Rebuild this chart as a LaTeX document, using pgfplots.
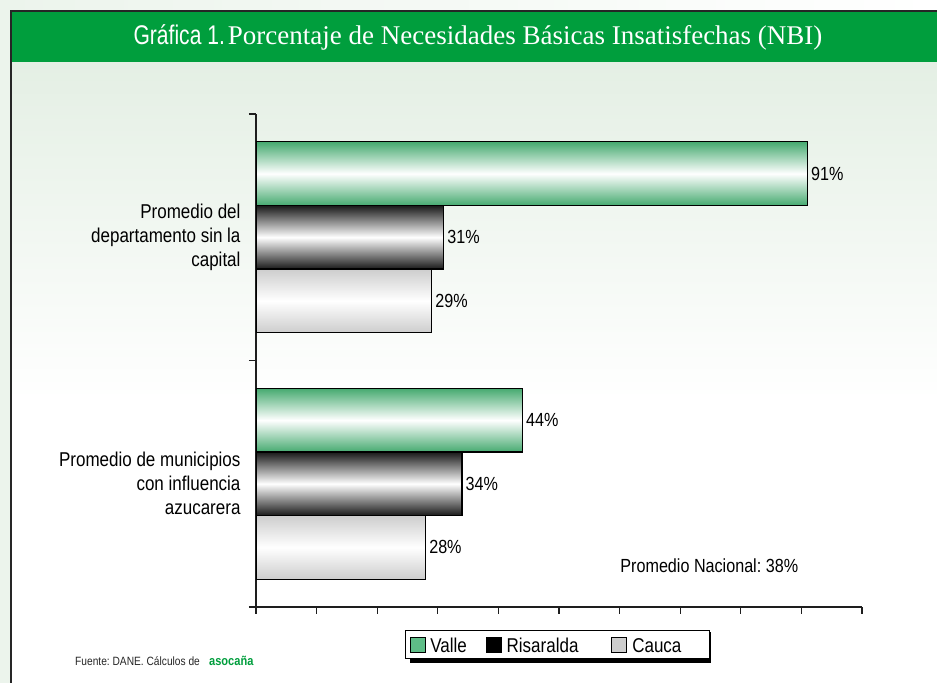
\documentclass[border=0pt]{standalone}
\usepackage{pgfplots}
\pgfplotsset{compat=1.18}
\usepackage{fontspec}
\setmainfont{Liberation Sans}[FakeStretch=0.85]
\newfontfamily\titleserif{Liberation Serif}
\newfontfamily\titlesans{Liberation Sans}[FakeStretch=0.78]
\definecolor{titlegreen}{RGB}{0,158,61}
\definecolor{bggreen}{RGB}{228,239,228}
\definecolor{outgreen}{RGB}{236,244,236}
\definecolor{vgreen}{RGB}{70,170,112}
\definecolor{vlegend}{RGB}{94,189,135}
\definecolor{rdark}{RGB}{25,25,25}
\definecolor{cgray}{RGB}{205,205,205}
\definecolor{axisblack}{RGB}{30,30,30}
\pgfplotsset{
  valle/.style={xbar, bar shift=0, draw=black, line width=1.2bp, top color=vgreen, bottom color=vgreen, middle color=white},
  risa/.style={xbar, bar shift=0, draw=black, line width=1.2bp, top color=rdark, bottom color=rdark, middle color=white},
  cauca/.style={xbar, bar shift=0, draw=black, line width=1.2bp, top color=cgray, bottom color=cgray, middle color=white},
}
\begin{document}
\frenchspacing
\begin{tikzpicture}
\path[use as bounding box] (0,0) rectangle (937bp,683bp);
% background
\fill[left color=outgreen, right color=white] (0,0) rectangle (937bp,683bp);
\fill[white] (11bp,0) rectangle (937bp,283bp);
\fill[top color=bggreen, bottom color=white] (11bp,283bp) rectangle (937bp,621bp);
\fill[titlegreen] (11bp,621bp) rectangle (937bp,672bp);
\draw[line width=1.8bp, draw=black!85] (11bp,0) -- (11bp,672bp) -- (937bp,672bp);
\node[text=white, anchor=base] at (478bp,638bp)
  {\fontsize{27bp}{31bp}\selectfont\titlesans Gráfica 1.\hspace{3bp}\titleserif Porcentaje de Necesidades Básicas Insatisfechas (NBI)};
% legend shadow
\fill[black] (410bp,20bp) rectangle (711bp,51bp);

\begin{axis}[
  at={(256bp,76bp)}, anchor=south west,
  scale only axis, width=606bp, height=493bp,
  xmin=0, xmax=100, ymin=0, ymax=2,
  axis lines=left,
  axis line style={-, line width=1.5bp, draw=axisblack},
  tick style={line width=1.3bp, draw=axisblack},
  tick align=outside,
  xtick={0,10,...,100}, xticklabels={},
  major tick length=7bp,
  ytick={0,1,2}, yticklabels={},
  extra y ticks={0.5,1.5},
  extra y tick labels={{Promedio de municipios\\con influencia\\azucarera},{Promedio del\\departamento sin la\\capital}},
  extra y tick style={major tick length=0pt, yticklabel style={align=right, font=\fontsize{20bp}{24bp}\selectfont, xshift=-12bp}},
  bar width=0.258,
  point meta=x,
  nodes near coords={\pgfmathprintnumber{\pgfplotspointmeta}\%},
  nodes near coords align=horizontal,
  every node near coord/.append style={font=\fontsize{19bp}{23bp}\selectfont, inner sep=3bp, text=black},
  /pgf/number format/assume math mode=true,
  legend columns=3,
  legend style={at={(0.4975,-0.0761)}, anchor=center, draw=black, line width=1bp, fill=white,
    font=\fontsize{20bp}{24bp}\selectfont, inner xsep=4bp, inner ysep=3bp,
    /tikz/every odd column/.append style={column sep=3bp}},
  legend image code/.code={\draw[#1, line width=0.8bp] (0bp,-7.5bp) rectangle (15bp,7.5bp);},
]
\addplot[valle, forget plot] coordinates {(91,1.758)};
\addplot[risa, forget plot] coordinates {(31,1.5)};
\addplot[cauca, forget plot] coordinates {(29,1.242)};
\addplot[valle, forget plot] coordinates {(44,0.758)};
\addplot[risa, forget plot] coordinates {(34,0.5)};
\addplot[cauca, forget plot] coordinates {(28,0.242)};
\addlegendimage{fill=vlegend, draw=black}
\addlegendentry{\strut Valle\rule{17bp}{0pt}}
\addlegendimage{fill=black, draw=black}
\addlegendentry{\strut Risaralda\rule{31bp}{0pt}}
\addlegendimage{fill=cgray, draw=black}
\addlegendentry{\strut Cauca\rule{22bp}{0pt}}
\node[font=\fontsize{19bp}{23bp}\selectfont] at (axis cs:74.8,0.166) {Promedio Nacional: 38\%};
\end{axis}

\node[anchor=base west, font=\fontsize{12bp}{14bp}\selectfont, text=black!85, inner sep=0] at (75bp,18bp) {Fuente: DANE. Cálculos de};
\node[anchor=base west, font=\fontsize{13bp}{15bp}\selectfont\bfseries, text=titlegreen, inner sep=0] at (209bp,18bp) {asocaña};
\end{tikzpicture}
\end{document}
